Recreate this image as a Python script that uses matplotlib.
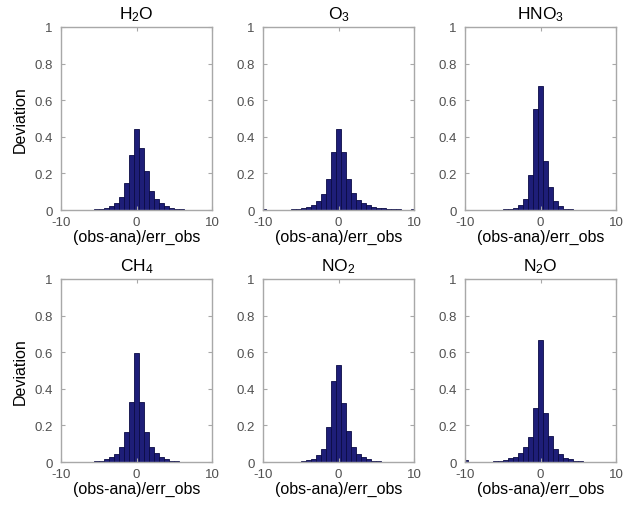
import numpy as np
import matplotlib.pyplot as plt

plt.rcParams['font.family'] = ['Liberation Sans', 'DejaVu Sans']
plt.rcParams['mathtext.default'] = 'regular'
plt.rcParams['axes.unicode_minus'] = False

# bin centres (width 2/3, centred on 0)
w = 2.0 / 3.0
centers = np.arange(-15, 16) * w

titles = ['H$_2$O', 'O$_3$', 'HNO$_3$', 'CH$_4$', 'NO$_2$', 'N$_2$O']

# heights, from k=-15 .. k=15 (15 left, peak, 15 right)
h2o = [0, 0, 0, 0, 0, 0.001, 0.002, 0.003, 0.005, 0.01, 0.02, 0.037, 0.073, 0.15, 0.30,
       0.445,
       0.34, 0.215, 0.105, 0.06, 0.037, 0.022, 0.013, 0.007, 0.004, 0.002, 0.001, 0, 0, 0, 0]
o3 = [0.008, 0, 0, 0, 0, 0.002, 0.004, 0.006, 0.01, 0.018, 0.03, 0.05, 0.086, 0.17, 0.315,
      0.445,
      0.315, 0.17, 0.095, 0.053, 0.037, 0.026, 0.018, 0.013, 0.009, 0.006, 0.004, 0.003, 0.002, 0.001, 0.008]
hno3 = [0, 0, 0, 0, 0, 0, 0, 0.001, 0.003, 0.006, 0.012, 0.03, 0.06, 0.19, 0.55,
        0.675,
        0.27, 0.125, 0.05, 0.02, 0.008, 0.003, 0.001, 0, 0, 0, 0, 0, 0, 0, 0]
ch4 = [0, 0, 0, 0, 0, 0, 0.002, 0.004, 0.007, 0.015, 0.027, 0.045, 0.08, 0.165, 0.33,
       0.594,
       0.33, 0.165, 0.08, 0.05, 0.027, 0.015, 0.007, 0.004, 0.002, 0, 0, 0, 0, 0, 0]
no2 = [0, 0, 0, 0, 0, 0, 0, 0.001, 0.003, 0.009, 0.018, 0.036, 0.072, 0.19, 0.445,
       0.53,
       0.32, 0.17, 0.08, 0.045, 0.027, 0.015, 0.007, 0.004, 0.002, 0.001, 0, 0, 0, 0, 0]
n2o = [0.012, 0, 0, 0, 0.001, 0.002, 0.004, 0.007, 0.012, 0.02, 0.03, 0.05, 0.08, 0.135, 0.293,
       0.665,
       0.27, 0.14, 0.07, 0.042, 0.024, 0.015, 0.007, 0.004, 0.002, 0.001, 0, 0, 0, 0, 0]

data = [h2o, o3, hno3, ch4, no2, n2o]

fig = plt.figure(figsize=(6.28, 5.06), dpi=100)

lefts = [61 / 628, 263 / 628, 465 / 628]
bottoms = [1 - 211 / 506, 1 - 463 / 506]
aw = 151 / 628
ah = 183 / 506

gray = '#a8a8a8'
for i in range(6):
    r, c = divmod(i, 3)
    ax = fig.add_axes([lefts[c], bottoms[r], aw, ah])
    ax.bar(centers, data[i], width=w, color='#1e1e78', edgecolor='#0b0b45', linewidth=0.6)
    ax.set_xlim(-10, 10)
    ax.set_ylim(0, 1)
    ax.set_xticks([-10, 0, 10])
    ax.set_yticks([0, 0.2, 0.4, 0.6, 0.8, 1])
    ax.set_yticklabels(['0', '0.2', '0.4', '0.6', '0.8', '1'])
    ax.tick_params(direction='in', length=3, colors=gray, labelcolor='#505050',
                   labelsize=9.5, top=True, right=True)
    ax.tick_params(axis='x', pad=4)
    ax.tick_params(axis='y', pad=6)
    for s in ax.spines.values():
        s.set_color(gray)
        s.set_linewidth(1.0)
    ax.set_title(titles[i], fontsize=12.5, pad=6)
    ax.set_xlabel('(obs-ana)/err_obs', fontsize=11.5, labelpad=1)
    if c == 0:
        ax.set_ylabel('Deviation', fontsize=11.5, labelpad=5)

fig.savefig('out.png', dpi=100)
